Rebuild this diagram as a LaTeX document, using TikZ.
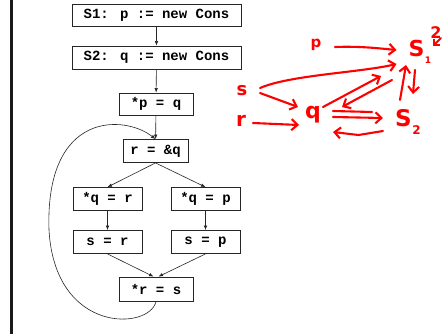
\documentclass[tikz,border=0pt]{standalone}
\usepackage{fontspec}
\usetikzlibrary{arrows.meta}
\newfontfamily\codefont{Liberation Mono}
\newfontfamily\handfont{DejaVu Sans}
\begin{document}
\begin{tikzpicture}[x=1pt,y=-1pt,
  stmt/.style={draw=black!85, line width=0.8pt, inner sep=0pt,
    font=\codefont\bfseries\fontsize{14}{16}\selectfont, minimum height=22pt},
  flow/.style={black!85, line width=0.6pt, -{Latex[length=4.5pt,width=3.5pt]}},
  hand/.style={red, inner sep=0pt},
  ink/.style={red, line width=2.1pt, line cap=round, line join=round},
  inkarrow/.style={ink, -{Straight Barb[length=6pt,width=11pt]}}]
% canvas
\fill[white] (0,0) rectangle (442,334);
\useasboundingbox (0,0) rectangle (442,334);
\fill[black!90] (10,0) rectangle (12.8,334);

% control-flow graph
\node[stmt, minimum width=169pt] (s1) at (156.5,15) {S1: p := new Cons};
\node[stmt, minimum width=169pt, minimum height=23pt] (s2) at (156.5,57.5) {S2: q := new Cons};
\node[stmt, minimum width=74pt] (pq) at (156,104) {*p = q};
\node[stmt, minimum width=65pt, minimum height=23pt] (rq) at (155.5,151) {r = \&q};
\node[stmt, minimum width=69pt, minimum height=23pt] (qr) at (107.5,199) {*q = r};
\node[stmt, minimum width=69pt, minimum height=23pt] (qp) at (205.5,199) {*q = p};
\node[stmt, minimum width=69pt, minimum height=23pt] (sr) at (107.5,242) {s = r};
\node[stmt, minimum width=69pt, minimum height=23pt] (sp) at (205.5,242) {s = p};
\node[stmt, minimum width=74pt, minimum height=24pt] (rs) at (156,289) {*r = s};

\draw[flow] (s1) -- (s2);
\draw[flow] (s2) -- (pq);
\draw[flow] (pq) -- (rq);
\draw[flow] (rq.south) -- (qr.north);
\draw[flow] (rq.south) -- (qp.north);
\draw[flow] (qr) -- (sr);
\draw[flow] (qp) -- (sp);
\draw[flow] (sr.south) -- ([xshift=-2.5pt]rs.north);
\draw[flow] (sp.south) -- ([xshift=2.5pt]rs.north);
\draw[flow] (rs.south) .. controls (150,330) and (55,335) .. (49,230)
  .. controls (45,110) and (125,115) .. (rq.north);

% points-to sketch
\node[hand, font=\handfont\bfseries\fontsize{15}{15}\selectfont] (p) at (316,45) {p};
\node[hand, font=\handfont\bfseries\fontsize{18}{18}\selectfont] (s) at (242,91) {s};
\node[hand, font=\handfont\bfseries\fontsize{20}{20}\selectfont] (r) at (241,121) {r};
\node[hand, font=\handfont\bfseries\fontsize{22}{22}\selectfont] (q) at (313,115) {q};
\node[hand, font=\handfont\bfseries\fontsize{22}{22}\selectfont] (S1) at (416.5,48.5) {S};
\node[hand, font=\handfont\bfseries\fontsize{9}{9}\selectfont] (S1sub) at (428,60) {1};
\node[hand, font=\handfont\bfseries\fontsize{16}{16}\selectfont] (S1sup) at (436,33) {2};
\node[hand, font=\handfont\bfseries\fontsize{23}{23}\selectfont] (S2) at (403.5,118) {S};
\node[hand, font=\handfont\bfseries\fontsize{12}{12}\selectfont] (S2sub) at (416.5,130) {2};

\draw[inkarrow] ([shift={(19,2)}]p.center) .. controls ([shift={(44,1)}]p.center)
  and ([shift={(-36,0)}]S1.center) .. ([shift={(-20,1.5)}]S1.center);
\draw[inkarrow] ([shift={(18,-3)}]s.center) .. controls ([shift={(48,-16)}]s.center)
  and ([shift={(-56,24)}]S1.center) .. ([shift={(-20,15.5)}]S1.center);
\draw[inkarrow] ([shift={(18,2)}]s.center) -- ([shift={(-15,-8)}]q.center);
\draw[inkarrow] ([shift={(12,2)}]r.center) -- ([shift={(-14,10)}]q.center);
\draw[inkarrow] ([shift={(10,-8)}]q.center) -- ([shift={(-35.5,27.5)}]S1.center);
\draw[inkarrow] ([shift={(-24.5,31.5)}]S1.center) -- ([shift={(29,-8)}]q.center);
\draw[inkarrow] ([shift={(-3.5,-18)}]S2.center) -- ([shift={(-10.5,16.5)}]S1.center);
\draw[inkarrow] ([shift={(-1.5,21.5)}]S1.center) -- ([shift={(9.5,-24)}]S2.center);
\draw[ink] ([shift={(20,-4)}]q.center) -- ([shift={(-31.5,-6)}]S2.center);
\draw[inkarrow] ([shift={(20,2)}]q.center) -- ([shift={(-20.5,0)}]S2.center);
\draw[inkarrow] ([shift={(-20.5,13)}]S2.center) -- ([shift={(-45,17)}]S2.center)
  -- ([shift={(20,17)}]q.center);
\draw[ink, -{Straight Barb[length=4pt,width=8pt]}] ([shift={(5,5)}]S1sup.center)
  -- ([shift={(-3,13)}]S1sup.center);
\end{tikzpicture}
\end{document}
